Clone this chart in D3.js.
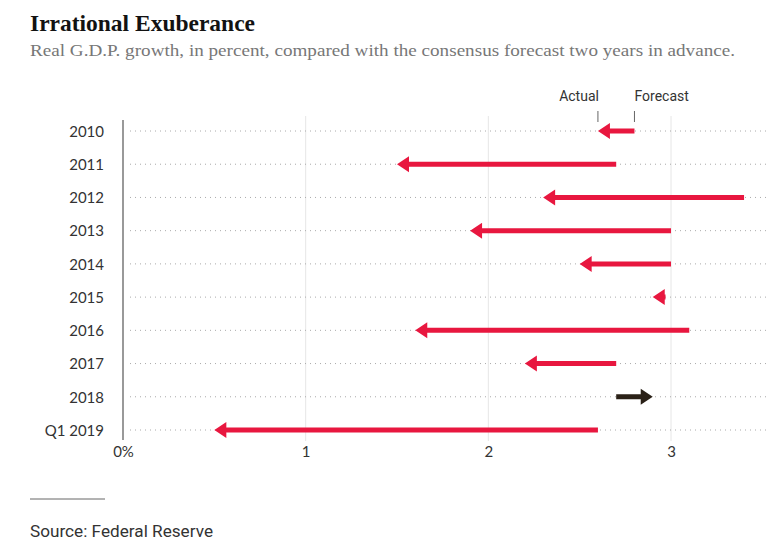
<!DOCTYPE html>
<html><head><meta charset="utf-8">
<script src="https://cdn.jsdelivr.net/npm/d3@7"></script>
<style>body{margin:0;background:#fff}</style>
</head><body>
<svg id="c" width="768" height="558"></svg>
<script>
const categories = ["2010","2011","2012","2013","2014","2015","2016","2017","2018","Q1 2019"];
const forecast = [2.8, 2.7, 3.4, 3.0, 3.0, 2.97, 3.1, 2.7, 2.7, 2.6];
const actual   = [2.6, 1.5, 2.3, 1.9, 2.5, 2.9, 1.6, 2.2, 2.9, 0.5];
const xTicks = [0, 1, 2, 3];
const xTickLabels = ["0%", "1", "2", "3"];

const svg = d3.select("#c");
const x = d3.scaleLinear().domain([0, 3]).range([123, 671]);
const y = d3.scalePoint().domain(categories).range([131, 430]);

svg.append("text").attr("x", 30).attr("y", 31)
  .attr("font-family", "Liberation Serif").attr("font-weight", "bold").attr("font-size", 24)
  .attr("fill", "#121212").attr("textLength", 225).attr("lengthAdjust", "spacingAndGlyphs")
  .text("Irrational Exuberance");
svg.append("text").attr("x", 30).attr("y", 56)
  .attr("font-family", "Liberation Serif").attr("font-size", 17.5)
  .attr("fill", "#777").attr("textLength", 705).attr("lengthAdjust", "spacingAndGlyphs")
  .text("Real G.D.P. growth, in percent, compared with the consensus forecast two years in advance.");

// vertical gridlines
svg.append("g").selectAll("line").data(xTicks.filter(d => d > 0)).join("line")
  .attr("x1", d => x(d)).attr("x2", d => x(d)).attr("y1", 116).attr("y2", 441)
  .attr("stroke", "#e6e6e6").attr("stroke-width", 1);

// dotted row lines
svg.append("g").selectAll("line").data(categories).join("line")
  .attr("x1", 130).attr("x2", 766).attr("y1", d => y(d)).attr("y2", d => y(d))
  .attr("stroke", "#aaa").attr("stroke-width", 1).attr("stroke-dasharray", "1,4");

// axis line
svg.append("line").attr("x1", 123).attr("x2", 123).attr("y1", 120).attr("y2", 440)
  .attr("stroke", "#999").attr("stroke-width", 2);

// y labels
const yAxis = d3.axisLeft(y).tickSize(0).tickPadding(0);
const gy = svg.append("g").attr("transform", "translate(104,0)").call(yAxis);
gy.select(".domain").remove();
gy.selectAll("text").attr("font-family", "Lato").attr("font-size", 15).attr("fill", "#333").attr("dy", "0.35em");

// x labels
const xAxis = d3.axisBottom(x).tickValues(xTicks).tickFormat((d, i) => xTickLabels[i]).tickSize(0).tickPadding(0);
const gx = svg.append("g").attr("transform", "translate(0,446)").call(xAxis);
gx.select(".domain").remove();
gx.selectAll("text").attr("font-family", "Lato").attr("font-size", 15).attr("fill", "#333").attr("dy", "0.72em");

// arrows
const headLen = 12, headHalf = 8, lw = 5;
const rows = categories.map((c, i) => ({c, f: forecast[i], a: actual[i]}));
const arrowPath = d => {
  const xf = x(d.f), xa = x(d.a), yy = y(d.c);
  const dir = xa < xf ? -1 : 1;
  const back = xa - dir * headLen;
  let p = `M${xa},${yy} L${back},${yy - headHalf} L${back},${yy + headHalf} Z`;
  if ((xf - back) * -dir > 0) {
    const x0 = Math.min(xf, back), x1 = Math.max(xf, back);
    p += ` M${x0},${yy - lw / 2} L${x1},${yy - lw / 2} L${x1},${yy + lw / 2} L${x0},${yy + lw / 2} Z`;
  }
  return p;
};
svg.append("g").selectAll("path").data(rows).join("path")
  .attr("d", arrowPath)
  .attr("fill", d => d.a < d.f ? "#e8173f" : "#2a2117");

// Actual / Forecast annotation
const r0 = rows[0];
svg.append("line").attr("x1", x(r0.a)).attr("x2", x(r0.a)).attr("y1", 111).attr("y2", 122).attr("stroke", "#666").attr("stroke-width", 1);
svg.append("line").attr("x1", x(r0.f)).attr("x2", x(r0.f)).attr("y1", 111).attr("y2", 122).attr("stroke", "#666").attr("stroke-width", 1);
svg.append("text").attr("x", x(r0.a) + 1).attr("y", 101).attr("text-anchor", "end")
  .attr("font-family", "Roboto").attr("font-size", 14).attr("fill", "#333").text("Actual");
svg.append("text").attr("x", x(r0.f)).attr("y", 101).attr("text-anchor", "start")
  .attr("font-family", "Roboto").attr("font-size", 14).attr("fill", "#333").text("Forecast");

// footer
svg.append("line").attr("x1", 30).attr("x2", 105).attr("y1", 499).attr("y2", 499).attr("stroke", "#666").attr("stroke-width", 1);
svg.append("text").attr("x", 30).attr("y", 537)
  .attr("font-family", "Roboto").attr("font-size", 16.5).attr("fill", "#333")
  .attr("textLength", 183).attr("lengthAdjust", "spacingAndGlyphs").text("Source: Federal Reserve");
</script>
</body></html>
